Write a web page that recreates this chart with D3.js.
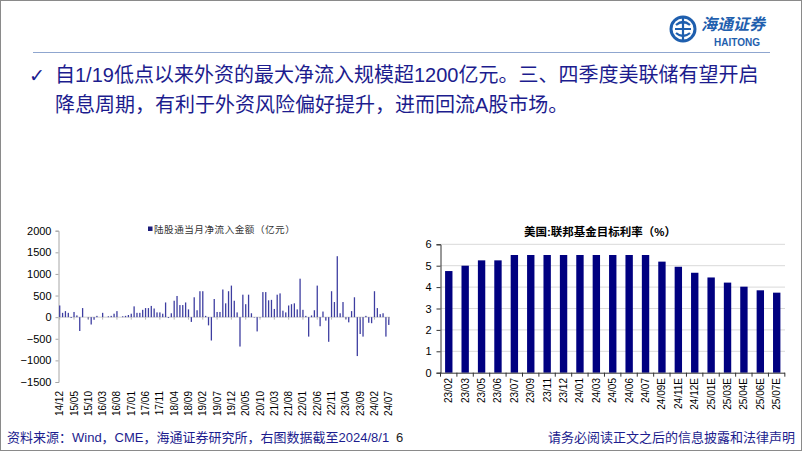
<!DOCTYPE html>
<html>
<head>
<meta charset="utf-8">
<script src="https://cdn.jsdelivr.net/npm/d3@7"></script>
<style>
  body { margin: 0; background: #fff; }
  svg { display: block; }
  text { font-family: "Liberation Sans", Arial, "Noto Sans CJK SC", sans-serif; }
  .cjk { font-family: "Liberation Sans", "Noto Sans CJK SC", sans-serif; }
</style>
</head>
<body>
<div id="chart"></div>
<script>
// 陆股通当月净流入金额（亿元），2014/12 - 2024/07
let flow_values = [
  270, 100, 140, 100, -20, 120, 40, -320, 210, 0,
  -50, -170, -60, 30, 0, 100, 0, 20, 30, 80,
  140, 0, 20, 30, 50, 80, 250, 100, 100, 170,
  210, 210, 260, 200, 110, 110, 80, 340, -20, 90,
  380, 490, 280, 280, 340, 180, -110, 460, 160, 600,
  600, 30, -190, -540, 420, 120, 120, 640, 320, 600,
  730, 380, 110, -680, 520, 300, 520, 90, -10, -330,
  -10, 580, 580, 390, 400, 190, 520, 550, 150, 110,
  270, 300, 320, 180, 890, 170, 30, -450, 40, 160,
  730, -210, 130, -80, -570, 600, 350, 1410, 90, 350,
  -50, -120, 140, 460, -900, -390, -450, 30, -130, -140,
  600, 210, 70, 90, -450, -180
];
let flow_months = [];
for (let i = 0; i < flow_values.length; i++) {
  let m = 12 + i, y = 14 + Math.floor((m - 1) / 12);
  let mm = ((m - 1) % 12) + 1;
  flow_months.push(y + "/" + (mm < 10 ? "0" + mm : mm));
}
let flow_ticks = [2000, 1500, 1000, 500, 0, -500, -1000, -1500];

// 美国:联邦基金目标利率（%）
let rate_cats = ["23/02","23/03","23/05","23/06","23/07","23/09","23/11","23/12","24/01","24/03",
  "24/05","24/06","24/07","24/09E","24/11E","24/12E","25/01E","25/03E","25/04E","25/06E","25/07E"];
let rate_values = [4.75, 5.0, 5.25, 5.25, 5.5, 5.5, 5.5, 5.5, 5.5, 5.5,
  5.5, 5.5, 5.5, 5.19, 4.95, 4.67, 4.45, 4.21, 4.02, 3.85, 3.74];
let rate_ticks = [0, 1, 2, 3, 4, 5, 6];

let W = 802, H = 451;
let navy = "#1c1c8e";
let svg = d3.select("#chart").append("svg").attr("width", W).attr("height", H);

svg.append("rect").attr("x", 0.5).attr("y", 0.5).attr("width", W - 1).attr("height", H - 1)
  .attr("fill", "#fff").attr("stroke", "#8a8a8a");

// header logo
let logo = svg.append("g").attr("transform", "translate(683,29)");
logo.append("circle").attr("r", 12).attr("fill", "none").attr("stroke", "#1f5fae").attr("stroke-width", 3);
logo.append("path").attr("d", "M-7,-4 Q0,-10 7,-4 M-7,4 Q0,10 7,4 M0,-12 L0,12 M-8,0 L8,0")
  .attr("fill", "none").attr("stroke", "#1f5fae").attr("stroke-width", 2.2);
svg.append("text").attr("class", "cjk").attr("x", 733).attr("y", 30).attr("text-anchor", "middle")
  .attr("font-size", 16).attr("font-weight", "bold").attr("font-style", "italic").attr("fill", "#1f5fae")
  .text("海通证券");
svg.append("text").attr("x", 737).attr("y", 46).attr("text-anchor", "middle")
  .attr("font-size", 10).attr("font-weight", "bold").attr("fill", "#1f5fae").text("HAITONG");
svg.append("line").attr("x1", 33).attr("x2", 770).attr("y1", 52.5).attr("y2", 52.5)
  .attr("stroke", "#8fa6cf").attr("stroke-width", 1.2);

// main text
svg.append("text").attr("x", 29).attr("y", 82).attr("font-size", 19).attr("fill", navy)
  .style("font-family", "DejaVu Sans").text("✓");
svg.append("text").attr("class", "cjk").attr("x", 55).attr("y", 82).attr("font-size", 20).attr("fill", navy)
  .text("自1/19低点以来外资的最大净流入规模超1200亿元。三、四季度美联储有望开启");
svg.append("text").attr("class", "cjk").attr("x", 55).attr("y", 112).attr("font-size", 20).attr("fill", navy)
  .text("降息周期，有利于外资风险偏好提升，进而回流A股市场。");

// ---------- left chart ----------
let lx = d3.scaleBand().domain(flow_months).range([58.5, 390]).paddingInner(0.55).paddingOuter(0.2);
let ly = d3.scaleLinear().domain([-1500, 2000]).range([382, 230.7]);

let lyAxis = d3.axisLeft(ly).tickValues(flow_ticks).tickFormat(d3.format("d")).tickSize(3).tickPadding(4);
let gly = svg.append("g").attr("transform", "translate(58.5,0)").call(lyAxis);
gly.select(".domain").attr("stroke", "#a6a6a6");
gly.selectAll(".tick line").attr("stroke", "#a6a6a6");
gly.selectAll(".tick text").attr("font-size", 11).attr("fill", "#000");

let zeroY = ly(0);
svg.append("line").attr("x1", 58.5).attr("x2", 390).attr("y1", zeroY).attr("y2", zeroY)
  .attr("stroke", "#c8c8c8").attr("stroke-width", 0.8);

svg.selectAll(".flowbar").data(flow_values).enter().append("rect")
  .attr("class", "flowbar")
  .attr("x", (d, i) => lx(flow_months[i]))
  .attr("width", lx.bandwidth())
  .attr("y", d => Math.min(ly(d), zeroY))
  .attr("height", d => Math.abs(ly(d) - zeroY))
  .attr("fill", "#3d3da0");

let flowLabels = flow_months.filter((d, i) => i % 5 === 0);
svg.selectAll(".flowtick").data(flowLabels).enter().append("line")
  .attr("x1", d => lx(d) + lx.bandwidth() / 2).attr("x2", d => lx(d) + lx.bandwidth() / 2)
  .attr("y1", zeroY).attr("y2", zeroY + 2.5).attr("stroke", "#a6a6a6").attr("stroke-width", 0.8);
svg.selectAll(".flowlab").data(flowLabels).enter().append("text")
  .attr("transform", d => "translate(" + (lx(d) + lx.bandwidth() / 2 + 3.5) + ",391) rotate(-90)")
  .attr("text-anchor", "end").attr("font-size", 10).attr("fill", "#000").text(d => d);

// legend
svg.append("rect").attr("x", 148).attr("y", 226.5).attr("width", 4.5).attr("height", 4.5).attr("fill", "#1c1c7a");
svg.append("text").attr("class", "cjk").attr("x", 154).attr("y", 232.5).attr("font-size", 9.6)
  .attr("fill", "#333").attr("letter-spacing", 0.5).text("陆股通当月净流入金额（亿元）");

// ---------- right chart ----------
let rx = d3.scaleBand().domain(rate_cats).range([440.5, 785]).paddingInner(0.55).paddingOuter(0.28);
let ry = d3.scaleLinear().domain([0, 6]).range([372.7, 244.3]);

svg.append("g").selectAll("line").data(rate_ticks.filter(d => d > 0)).enter().append("line")
  .attr("x1", 440.5).attr("x2", 785).attr("y1", d => ry(d)).attr("y2", d => ry(d))
  .attr("stroke", "#d9d9d9").attr("stroke-width", 1);

svg.selectAll(".ratebar").data(rate_values).enter().append("rect")
  .attr("class", "ratebar")
  .attr("x", (d, i) => rx(rate_cats[i]))
  .attr("width", rx.bandwidth())
  .attr("y", d => ry(d))
  .attr("height", d => ry(0) - ry(d))
  .attr("fill", "#000080");

let ryAxis = d3.axisLeft(ry).tickValues(rate_ticks).tickFormat(d3.format("d")).tickSize(4).tickPadding(5);
let gry = svg.append("g").attr("transform", "translate(440.5,0)").call(ryAxis);
gry.select(".domain").attr("stroke", "#333");
gry.selectAll(".tick line").attr("stroke", "#333");
gry.selectAll(".tick text").attr("font-size", 11).attr("fill", "#000");

svg.append("line").attr("x1", 440.5).attr("x2", 785).attr("y1", ry(0) + 0.5).attr("y2", ry(0) + 0.5)
  .attr("stroke", "#333");
let step = rx.step();
svg.selectAll(".ratetick").data(d3.range(rate_cats.length + 1)).enter().append("line")
  .attr("x1", i => 440.5 + i * step).attr("x2", i => 440.5 + i * step)
  .attr("y1", ry(0)).attr("y2", ry(0) + 4).attr("stroke", "#333");
svg.selectAll(".ratelab").data(rate_cats).enter().append("text")
  .attr("transform", d => "translate(" + (rx(d) + rx.bandwidth() / 2 + 3.5) + ",378) rotate(-90)")
  .attr("text-anchor", "end").attr("font-size", 10).attr("fill", "#000").text(d => d);

svg.append("text").attr("class", "cjk").attr("x", 600).attr("y", 236).attr("text-anchor", "middle")
  .attr("font-size", 11.5).attr("font-weight", "bold").attr("fill", "#000").text("美国:联邦基金目标利率（%）");

// footer
svg.append("text").attr("class", "cjk").attr("x", 7).attr("y", 442).attr("font-size", 13).attr("fill", navy)
  .text("资料来源：Wind，CME，海通证券研究所，右图数据截至2024/8/1");
svg.append("text").attr("x", 396).attr("y", 442).attr("font-size", 13).attr("fill", "#222").text("6");
svg.append("text").attr("class", "cjk").attr("x", 795).attr("y", 442).attr("text-anchor", "end")
  .attr("font-size", 13).attr("fill", navy).text("请务必阅读正文之后的信息披露和法律声明");
</script>
</body>
</html>
